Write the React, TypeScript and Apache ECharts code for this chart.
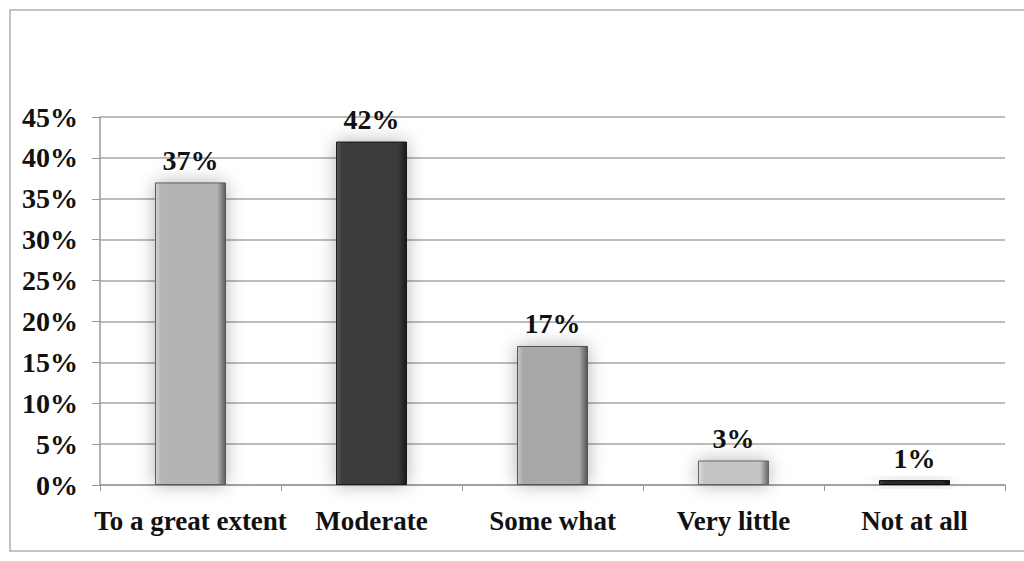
import React, { useEffect, useRef } from "react";
import * as echarts from "echarts";

const categories = ["To a great extent", "Moderate", "Some what", "Very little", "Not at all"];
const values = [37, 42, 17, 3, 0.6];
const barColors = [
  ["#d4d4d4", "#b4b4b4", "#5a5a5a"],
  ["#5a5a5a", "#3a3a3a", "#1a1a1a"],
  ["#c8c8c8", "#a8a8a8", "#555555"],
  ["#dedede", "#c4c4c4", "#666666"],
  ["#444444", "#2a2a2a", "#111111"],
];
const yTicks = [0, 5, 10, 15, 20, 25, 30, 35, 40, 45];

export default function App() {
  const ref = useRef<HTMLDivElement>(null);
  useEffect(() => {
    if (!ref.current) return;
    const chart = echarts.init(ref.current, null, { renderer: "svg" });
    const font = "'Liberation Serif', 'Times New Roman', serif";
    chart.setOption({
      animation: false,
      backgroundColor: "#ffffff",
      graphic: [
        {
          type: "rect",
          shape: { x: 10, y: 10, width: 1030, height: 541 },
          style: { fill: "none", stroke: "#b0b0b0", lineWidth: 1.5 },
          silent: true,
        },
      ],
      grid: { left: 100, right: 19, top: 117, bottom: 76, containLabel: false },
      xAxis: {
        type: "category",
        data: categories,
        axisLine: { lineStyle: { color: "#999999", width: 1.5 } },
        axisTick: { show: true, length: 6, lineStyle: { color: "#999999" } },
        axisLabel: {
          interval: 0,
          color: "#111111",
          fontFamily: font,
          fontWeight: "bold",
          fontSize: 27,
          margin: 22,
        },
      },
      yAxis: {
        type: "value",
        min: 0,
        max: 45,
        interval: 5,
        axisLine: { show: true, lineStyle: { color: "#999999", width: 1.5 } },
        axisTick: { show: true, length: 8, lineStyle: { color: "#999999" } },
        splitLine: { lineStyle: { color: "#a6a6a6", width: 1.5 } },
        axisLabel: {
          color: "#111111",
          fontFamily: font,
          fontWeight: "bold",
          fontSize: 28,
          margin: 22,
          formatter: (v: number) => (yTicks.includes(v) ? `${v}%` : ""),
        },
      },
      series: [
        {
          type: "bar",
          barWidth: 71,
          data: values.map((v, i) => ({
            value: v,
            itemStyle: {
              color: new echarts.graphic.LinearGradient(0, 0, 1, 0, [
                { offset: 0, color: barColors[i][0] },
                { offset: 0.08, color: barColors[i][1] },
                { offset: 0.88, color: barColors[i][1] },
                { offset: 1, color: barColors[i][2] },
              ]),
              borderColor: barColors[i][2],
              borderWidth: 1,
              shadowBlur: 18,
              shadowColor: "rgba(0,0,0,0.3)",
            },
          })),
          label: {
            show: true,
            position: "top",
            distance: 8,
            color: "#111111",
            fontFamily: font,
            fontWeight: "bold",
            fontSize: 28,
            formatter: (p: any) => `${Math.round(p.value)}%`,
          },
        },
      ],
    });
    return () => chart.dispose();
  }, []);
  return (
    <div
      ref={ref}
      style={{ position: "fixed", left: 0, top: 0, width: 1024, height: 561 }}
    />
  );
}
